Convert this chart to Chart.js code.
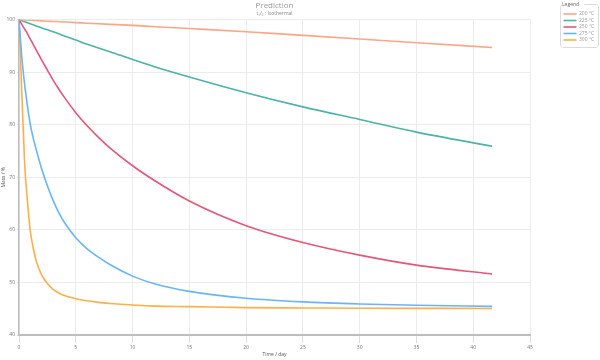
<!DOCTYPE html>
<html><head><meta charset="utf-8">
<script src="https://cdn.jsdelivr.net/npm/chart.js@4"></script>
<style>html,body{margin:0;padding:0;background:#fff}</style>
</head><body>
<canvas id="c" width="600" height="360"></canvas>
<script>
// Time in days
const days    = [0, 0.25, 0.5, 0.75, 1, 1.25, 1.5, 2, 2.5, 3, 3.5, 4, 5, 6, 7, 8, 10, 12, 15, 20, 25, 30, 35, 41.67];
// Mass (%) per temperature
const mass200 = [100, 99.97, 99.94, 99.91, 99.88, 99.85, 99.82, 99.76, 99.7, 99.65, 99.6, 99.55, 99.43, 99.32, 99.2, 99.1, 98.9, 98.65, 98.3, 97.7, 97.0, 96.3, 95.6, 94.7];
const mass225 = [100, 99.8, 99.6, 99.4, 99.2, 99.0, 98.8, 98.4, 98.05, 97.7, 97.3, 96.9, 96.1, 95.3, 94.6, 93.9, 92.4, 91.0, 89.1, 86.1, 83.4, 81.0, 78.6, 75.9];
const mass250 = [100, 99.1, 98.2, 97.3, 96.3, 95.3, 94.3, 92.3, 90.4, 88.5, 86.8, 85.2, 82.3, 79.8, 77.6, 75.6, 72.2, 69.3, 65.5, 60.8, 57.6, 55.2, 53.3, 51.6];
const mass275 = [100, 92.8, 87.6, 83.5, 80.0, 77.5, 75.4, 71.6, 68.4, 65.6, 63.3, 61.4, 58.5, 56.4, 54.8, 53.4, 51.2, 49.7, 48.3, 47.0, 46.3, 45.9, 45.65, 45.45];
const mass300 = [100, 86.0, 72.5, 65.3, 59.7, 56.6, 54.2, 51.4, 49.8, 48.7, 48.0, 47.5, 46.9, 46.5, 46.2, 46.0, 45.7, 45.5, 45.4, 45.2, 45.15, 45.1, 45.07, 45.05];
const seriesLabels = ['200 °C', '225 °C', '250 °C', '275 °C', '300 °C'];
const seriesColors = ['#ffa584', '#4cb3a8', '#e5577a', '#68b4ff', '#ffae48'];
const xTicks = [0, 45, 5];
const yTicks = [40, 100, 10];

const allSeries = [mass200, mass225, mass250, mass275, mass300];
const FONT = "'Open Sans', 'Noto Sans', sans-serif";

const legendPlugin = {
  id: 'legendPlace',
  afterLayout(chart) {
    const lg = chart.legend;
    const w = lg.width;
    lg.left = 562;
    lg.right = lg.left + w;
  },
  afterDraw(chart) {
    const lg = chart.legend;
    const hb = lg.legendHitBoxes || [];
    const last = hb[hb.length - 1];
    const ctx = chart.ctx;
    const x0 = 560.5, x1 = 598.5, y0 = 4.5;
    const y1 = last ? Math.round(last.top + last.height) + 4.5 : 57.5;
    ctx.save();
    ctx.strokeStyle = '#dcdcdc';
    ctx.lineWidth = 1;
    ctx.beginPath();
    ctx.moveTo(x0 + 3, y0);
    ctx.lineTo(x0 + 2, y0);
    ctx.lineTo(x0, y0 + 2);
    ctx.lineTo(x0, y1 - 2);
    ctx.lineTo(x0 + 2, y1);
    ctx.lineTo(x1 - 2, y1);
    ctx.lineTo(x1, y1 - 2);
    ctx.lineTo(x1, y0 + 2);
    ctx.lineTo(x1 - 2, y0);
    ctx.lineTo(x0 + 24, y0);
    ctx.stroke();
    ctx.restore();
  }
};

new Chart(document.getElementById('c'), {
  type: 'line',
  data: {
    datasets: allSeries.map((vals, i) => ({
      label: seriesLabels[i],
      data: days.map((d, j) => ({x: d, y: vals[j]})),
      borderColor: seriesColors[i],
      backgroundColor: seriesColors[i],
      borderWidth: 1.6,
      pointRadius: 0,
      fill: false,
      cubicInterpolationMode: 'monotone'
    }))
  },
  options: {
    responsive: false,
    animation: false,
    layout: {padding: 0},
    plugins: {
      title: {
        display: true, text: 'Prediction', color: '#999', fullSize: false,
        font: {family: FONT, size: 8, weight: 'normal'}, padding: {top: 1, bottom: 0}
      },
      subtitle: {
        display: true, text: 't₁/₂ : Isothermal', color: '#888', fullSize: false,
        font: {family: FONT, size: 5}, padding: {top: 0, bottom: 3}
      },
      legend: {
        position: 'right', align: 'start',
        title: {display: true, text: 'Legend', color: '#666', position: 'start',
                font: {family: FONT, size: 5}, padding: 2},
        labels: {
          usePointStyle: true, pointStyle: 'line', pointStyleWidth: 13,
          color: '#999', font: {family: FONT, size: 5}, padding: 1.5, boxHeight: 5
        }
      },
      tooltip: {enabled: false}
    },
    scales: {
      x: {
        type: 'linear', min: xTicks[0], max: xTicks[1],
        ticks: {stepSize: xTicks[2], color: '#777', font: {family: FONT, size: 5}, padding: 2, maxRotation: 0},
        grid: {color: '#ececec', tickColor: '#ddd', tickLength: 8},
        border: {color: '#bdbdbd', width: 2},
        title: {display: true, text: 'Time / day', color: '#555', font: {family: FONT, size: 5}, padding: {top: 0, bottom: 2}},
        afterFit(s) { s.height = 25; s.paddingRight = 70; }
      },
      y: {
        min: yTicks[0], max: yTicks[1],
        ticks: {stepSize: yTicks[2], color: '#777', font: {family: FONT, size: 5}, padding: 2},
        grid: {color: '#ececec', tickColor: '#ddd', tickLength: 2},
        border: {color: '#bdbdbd', width: 1.5},
        title: {display: true, text: 'Mass / %', color: '#555', font: {family: FONT, size: 5}, padding: {top: 1, bottom: 0}},
        afterFit(s) { s.width = 19; }
      }
    }
  },
  plugins: [legendPlugin]
});
</script>
</body></html>
